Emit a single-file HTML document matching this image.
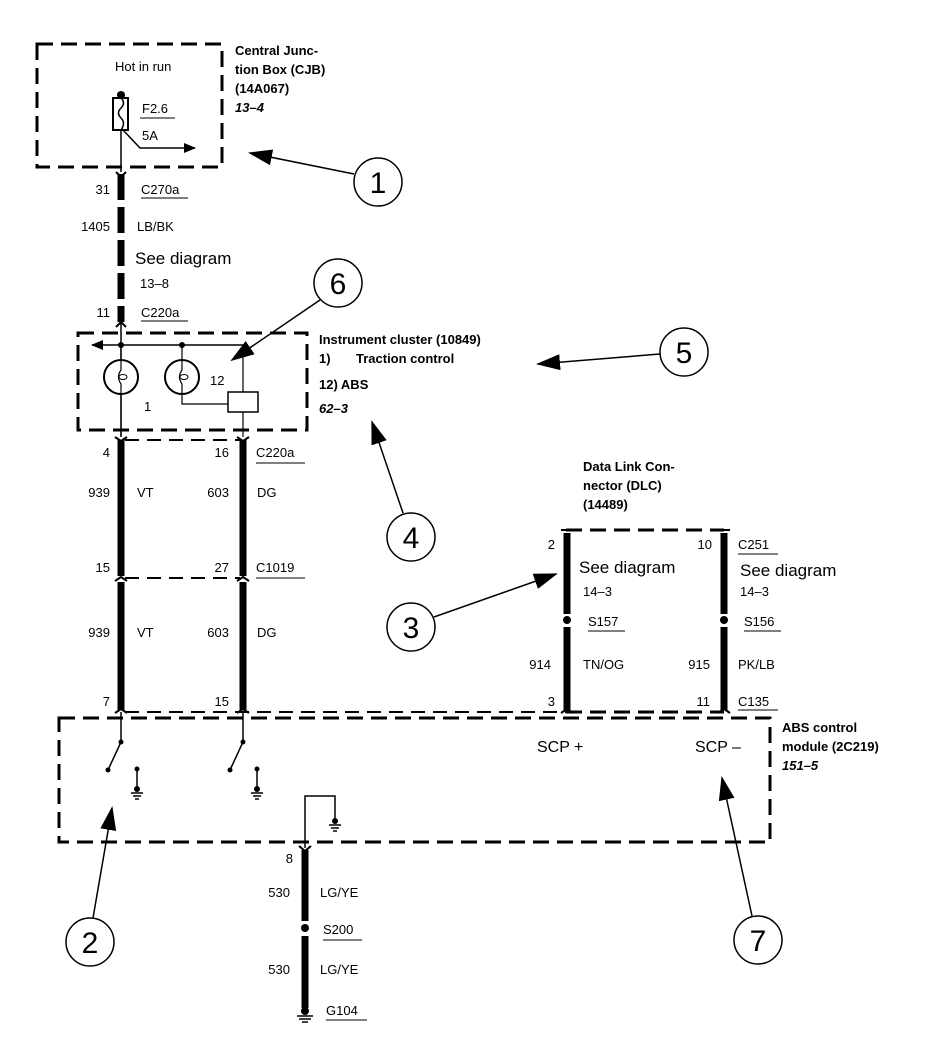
<!DOCTYPE html>
<html><head><meta charset="utf-8"><style>
html,body{margin:0;padding:0;background:#fff}
svg{display:block}
text{font-family:"Liberation Sans",Arial,sans-serif;fill:#000}
.s{font-size:13px}
.b{font-size:13px;font-weight:bold}
.bi{font-size:13px;font-weight:bold;font-style:italic}
.m{font-size:17px;font-weight:bold}
.c{font-size:30px}
</style></head><body>
<svg width="926" height="1056" viewBox="0 0 926 1056" xmlns="http://www.w3.org/2000/svg">
<defs>
<marker id="ah" markerWidth="12" markerHeight="10" refX="11" refY="5" orient="auto" markerUnits="userSpaceOnUse">
<path d="M0,0 L12,5 L0,10 Z" fill="#000"/></marker>
<marker id="ah2" markerWidth="24" markerHeight="16" refX="22" refY="8" orient="auto" markerUnits="userSpaceOnUse">
<path d="M0,0 L24,8 L0,16 Z" fill="#000"/></marker>
</defs>
<g fill="none" stroke="#000" stroke-width="3" stroke-dasharray="16,8">
<rect x="37" y="44" width="185" height="123"/>
<rect x="78" y="333" width="229" height="97"/>
<path d="M59,718 H770 V842 H59 Z"/>
<path d="M566,530 H724"/>
<path d="M566,712 H724"/>
</g>
<g stroke="#000" stroke-width="2" stroke-dasharray="14,8" fill="none">
<path d="M125,440 H240"/><path d="M125,578 H240"/><path d="M125,712 H566"/>
</g>
<!-- CJB internals -->
<circle cx="121" cy="95" r="4" fill="#000"/>
<rect x="113" y="98" width="15" height="32" fill="#fff" stroke="#000" stroke-width="2"/>
<path d="M121,98 q5,5 0,10 q-5,5 0,10 q5,5 0,12" fill="none" stroke="#000" stroke-width="1.5"/>
<path d="M121,130 V172" stroke="#000" stroke-width="1.5"/>
<path d="M123,130 L140,148 H195" stroke="#000" stroke-width="1.5" fill="none" marker-end="url(#ah)"/>
<path d="M140,118 H175" stroke="#000" stroke-width="1"/>
<text x="115" y="71" class="s">Hot in run</text>
<text x="142" y="113" class="s">F2.6</text>
<text x="142" y="140" class="s">5A</text>
<!-- wire 1405 -->
<path d="M121,174 V322" stroke="#000" stroke-width="7" stroke-dasharray="26,7"/>
<path d="M116,172 L121,177 L126,172" stroke="#000" stroke-width="2" fill="none"/>
<path d="M116,327 L121,322 L126,327" stroke="#000" stroke-width="2" fill="none"/>
<text x="110" y="194" class="s" text-anchor="end">31</text>
<text x="141" y="194" class="s">C270a</text><path d="M141,198 H188" stroke="#000"/>
<text x="110" y="231" class="s" text-anchor="end">1405</text>
<text x="137" y="231" class="s">LB/BK</text>
<text x="135" y="264" style="font-size:17px">See diagram</text>
<text x="140" y="288" class="s">13–8</text>
<text x="110" y="317" class="s" text-anchor="end">11</text>
<text x="141" y="317" class="s">C220a</text><path d="M141,321 H188" stroke="#000"/>
<!-- cluster internals -->
<path d="M121,322 V437" stroke="#000" stroke-width="1.5"/>
<path d="M243,345 H92" stroke="#000" stroke-width="1.5" marker-end="url(#ah)"/>
<circle cx="121" cy="345" r="3" fill="#000"/><circle cx="182" cy="345" r="3" fill="#000"/>
<circle cx="121" cy="377" r="17" fill="#fff" stroke="#000" stroke-width="2"/>
<circle cx="182" cy="377" r="17" fill="#fff" stroke="#000" stroke-width="2"/>
<path d="M121,345 V370 q-5,7 0,14 V437" fill="none" stroke="#000" stroke-width="1.2"/>
<path d="M182,345 V370 q-5,7 0,14 V404 H228" fill="none" stroke="#000" stroke-width="1.2"/>
<ellipse cx="123" cy="377" rx="4" ry="2.5" fill="none" stroke="#000"/>
<ellipse cx="184" cy="377" rx="4" ry="2.5" fill="none" stroke="#000"/>
<path d="M243,345 V437" stroke="#000" stroke-width="1.2"/>
<rect x="228" y="392" width="30" height="20" fill="#fff" stroke="#000" stroke-width="1.5"/>
<text x="210" y="385" class="s">12</text>
<text x="144" y="411" class="s">1</text>
<text x="319" y="344" class="b">Instrument cluster (10849)</text>
<text x="319" y="363" class="b">1)</text><text x="356" y="363" class="b">Traction control</text>
<text x="319" y="389" class="b">12)  ABS</text>
<text x="319" y="413" class="bi">62–3</text>
<!-- wires 939 / 603 -->
<g stroke="#000" stroke-width="7">
<path d="M121,440 V576"/><path d="M243,440 V576"/>
<path d="M121,582 V710"/><path d="M243,582 V710"/>
</g>
<g stroke="#000" stroke-width="2" fill="none">
<path d="M115,437 L121,441 L127,437"/><path d="M237,437 L243,441 L249,437"/>
<path d="M115,581 L121,577 L127,581"/><path d="M237,581 L243,577 L249,581"/>
<path d="M115,713 L121,709 L127,713"/><path d="M237,713 L243,709 L249,713"/>
</g>
<text x="110" y="457" class="s" text-anchor="end">4</text>
<text x="229" y="457" class="s" text-anchor="end">16</text>
<text x="256" y="457" class="s">C220a</text><path d="M256,463 H305" stroke="#000"/>
<text x="110" y="497" class="s" text-anchor="end">939</text><text x="137" y="497" class="s">VT</text>
<text x="229" y="497" class="s" text-anchor="end">603</text><text x="257" y="497" class="s">DG</text>
<text x="110" y="572" class="s" text-anchor="end">15</text>
<text x="229" y="572" class="s" text-anchor="end">27</text>
<text x="256" y="572" class="s">C1019</text><path d="M256,578 H305" stroke="#000"/>
<text x="110" y="637" class="s" text-anchor="end">939</text><text x="137" y="637" class="s">VT</text>
<text x="229" y="637" class="s" text-anchor="end">603</text><text x="257" y="637" class="s">DG</text>
<text x="110" y="706" class="s" text-anchor="end">7</text>
<text x="229" y="706" class="s" text-anchor="end">15</text>
<!-- DLC -->
<text x="583" y="471" class="b">Data Link Con-</text>
<text x="583" y="490" class="b">nector (DLC)</text>
<text x="583" y="509" class="b">(14489)</text>
<g stroke="#000" stroke-width="7">
<path d="M567,533 V614"/><path d="M567,627 V710"/>
<path d="M724,533 V614"/><path d="M724,627 V710"/>
</g>
<circle cx="567" cy="620" r="4" fill="#000"/><circle cx="724" cy="620" r="4" fill="#000"/>
<g stroke="#000" stroke-width="2" fill="none">
<path d="M561,530 H573"/><path d="M718,530 H730"/>
<path d="M561,713 L567,709 L573,713"/><path d="M718,713 L724,709 L730,713"/>
</g>
<text x="555" y="549" class="s" text-anchor="end">2</text>
<text x="712" y="549" class="s" text-anchor="end">10</text>
<text x="738" y="549" class="s">C251</text><path d="M738,554 H778" stroke="#000"/>
<text x="579" y="573" style="font-size:17px">See diagram</text>
<text x="740" y="576" style="font-size:17px">See diagram</text>
<text x="583" y="596" class="s">14–3</text>
<text x="740" y="596" class="s">14–3</text>
<text x="588" y="626" class="s">S157</text><path d="M588,631 H625" stroke="#000"/>
<text x="744" y="626" class="s">S156</text><path d="M744,631 H781" stroke="#000"/>
<text x="551" y="669" class="s" text-anchor="end">914</text><text x="583" y="669" class="s">TN/OG</text>
<text x="710" y="669" class="s" text-anchor="end">915</text><text x="738" y="669" class="s">PK/LB</text>
<text x="555" y="706" class="s" text-anchor="end">3</text>
<text x="710" y="706" class="s" text-anchor="end">11</text>
<text x="738" y="706" class="s">C135</text><path d="M738,710 H778" stroke="#000"/>
<!-- ABS -->
<text x="782" y="732" class="b">ABS control</text>
<text x="782" y="751" class="b">module (2C219)</text>
<text x="782" y="770" class="bi">151–5</text>
<text x="537" y="752" style="font-size:16px">SCP +</text>
<text x="695" y="752" style="font-size:16px">SCP –</text>
<g stroke="#000" stroke-width="1.5" fill="none">
<path d="M121,712 V742 L108,770"/><path d="M243,712 V742 L230,770"/>
<path d="M137,769 V790"/><path d="M257,769 V790"/>
<path d="M131,793 H143 M133,796 H141 M135,799 H139"/>
<path d="M251,793 H263 M253,796 H261 M255,799 H259"/>
<path d="M305,848 V796 H335 V822"/>
<path d="M329,825 H341 M331,828 H339 M333,831 H337"/>
</g>
<g fill="#000">
<circle cx="121" cy="742" r="2.5"/><circle cx="108" cy="770" r="2.5"/>
<circle cx="243" cy="742" r="2.5"/><circle cx="230" cy="770" r="2.5"/>
<circle cx="137" cy="769" r="2.5"/><circle cx="137" cy="789" r="3"/>
<circle cx="257" cy="769" r="2.5"/><circle cx="257" cy="789" r="3"/>
<circle cx="335" cy="821" r="3"/>
</g>
<!-- ground wire -->
<path d="M305,850 V921"/><g stroke="#000" stroke-width="7"><path d="M305,850 V921"/><path d="M305,936 V1008"/></g>
<path d="M299,846 L305,851 L311,846" stroke="#000" stroke-width="2" fill="none"/>
<circle cx="305" cy="928" r="4" fill="#000"/>
<circle cx="305" cy="1011" r="4" fill="#000"/>
<path d="M297,1016 H313 M299,1019 H311 M302,1022 H308" stroke="#000" stroke-width="1.5"/>
<text x="293" y="863" class="s" text-anchor="end">8</text>
<text x="290" y="897" class="s" text-anchor="end">530</text><text x="320" y="897" class="s">LG/YE</text>
<text x="323" y="934" class="s">S200</text><path d="M323,940 H362" stroke="#000"/>
<text x="290" y="974" class="s" text-anchor="end">530</text><text x="320" y="974" class="s">LG/YE</text>
<text x="326" y="1015" class="s">G104</text><path d="M326,1020 H367" stroke="#000"/>
<!-- CJB label -->
<text x="235" y="55" class="b">Central Junc-</text>
<text x="235" y="74" class="b">tion Box (CJB)</text>
<text x="235" y="93" class="b">(14A067)</text>
<text x="235" y="112" class="bi">13–4</text>
<!-- callouts -->
<g fill="#fff" stroke="#000" stroke-width="1.5">
<circle cx="378" cy="182" r="24"/><circle cx="338" cy="283" r="24"/>
<circle cx="684" cy="352" r="24"/><circle cx="411" cy="537" r="24"/>
<circle cx="411" cy="627" r="24"/><circle cx="90" cy="942" r="24"/>
<circle cx="758" cy="940" r="24"/>
</g>
<g stroke="#000" stroke-width="1.5">
<path d="M354,174 L250,153" marker-end="url(#ah2)"/>
<path d="M320,300 L232,360" marker-end="url(#ah2)"/>
<path d="M660,354 L538,364" marker-end="url(#ah2)"/>
<path d="M403,513 L372,422" marker-end="url(#ah2)"/>
<path d="M434,617 L556,574" marker-end="url(#ah2)"/>
<path d="M93,918 L112,808" marker-end="url(#ah2)"/>
<path d="M752,916 L722,778" marker-end="url(#ah2)"/>
</g>
<g class="c" text-anchor="middle">
<text x="378" y="193" class="c">1</text><text x="338" y="294" class="c">6</text>
<text x="684" y="363" class="c">5</text><text x="411" y="548" class="c">4</text>
<text x="411" y="638" class="c">3</text><text x="90" y="953" class="c">2</text>
<text x="758" y="951" class="c">7</text>
</g>
</svg>
</body></html>
